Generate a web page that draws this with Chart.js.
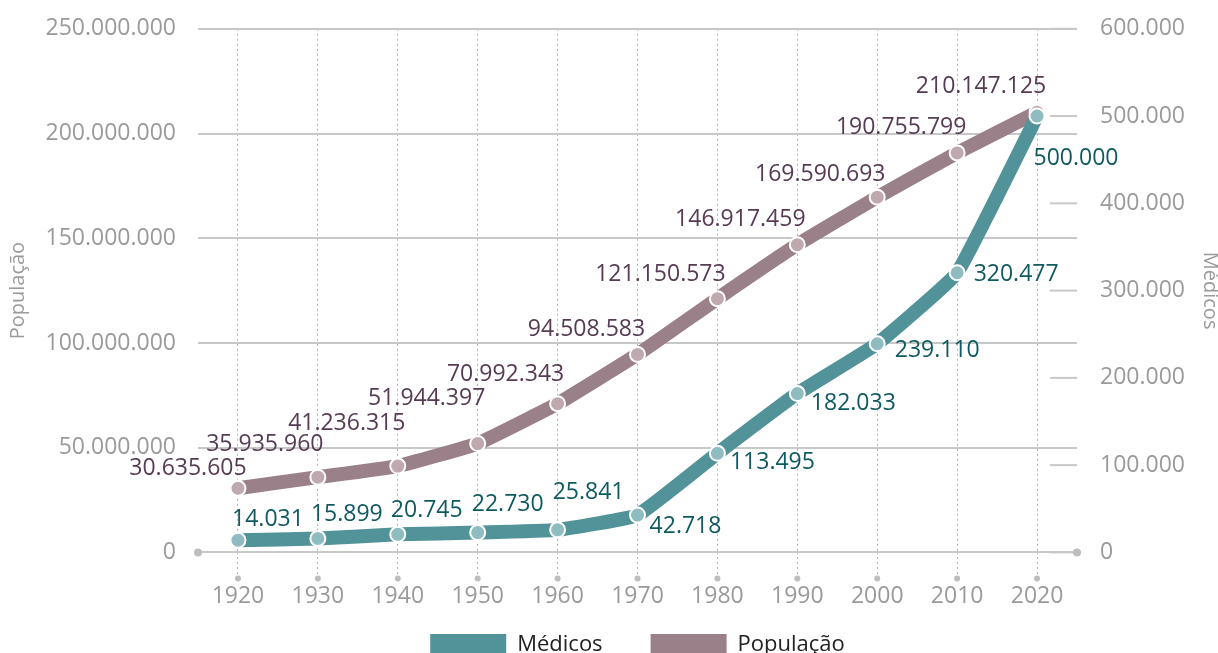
<!DOCTYPE html>
<html>
<head>
<meta charset="utf-8">
<script src="https://cdn.jsdelivr.net/npm/chart.js@4"></script>
<style>
	html, body { margin: 0; padding: 0; background: #fff; overflow: hidden; }
	#box { width: 1218px; height: 674px; position: relative; margin-top: -8px; }
</style>
</head>
<body>
<div id="box"><canvas id="graphic"></canvas></div>
<script>
const anos = ['1920', '1930', '1940', '1950', '1960', '1970', '1980', '1990', '2000', '2010', '2020'];
const medicos = [14031, 15899, 20745, 22730, 25841, 42718, 113495, 182033, 239110, 320477, 500000];
const populacao = [30635605, 35935960, 41236315, 51944397, 70992343, 94508583, 121150573, 146917459, 169590693, 190755799, 210147125];

// where each value label sits, relative to its point
const medLabelPos = [[30, -21], [29, -24], [29, -24], [30, -28], [31, -37], [48, 11], [55, 9], [56, 10], [60, 7], [59, 2], [39, 42]];
const popLabelPos = [[-50, -20], [-53, -33], [-51, -43], [-51, -45], [-52, -29], [-51, -25], [-57, -24], [-57, -25], [-57, -23], [-56, -25], [-56, -26]];

const FONT = "'Open Sans', sans-serif";
const GREY = '#9a9a9a';

function fmt(v) {
	return String(v).replace(/\B(?=(\d{3})+(?!\d))/g, '.');
}

const extras = {
	id: 'extras',
	beforeDatasetsDraw(chart) {
		const ctx = chart.ctx;
		const area = chart.chartArea;
		const x = chart.scales.x;
		const y1 = chart.scales.y1;
		ctx.save();
		// short marks for the right axis
		ctx.strokeStyle = '#c8c8c8';
		ctx.lineWidth = 2;
		y1.ticks.forEach(t => {
			let py = y1.getPixelForValue(t.value);
			ctx.beginPath();
			ctx.moveTo(area.right - 27, py);
			ctx.lineTo(area.right, py);
			ctx.stroke();
		});
		// dots
		ctx.fillStyle = '#bdbdbd';
		[area.left, area.right].forEach(px => {
			ctx.beginPath();
			ctx.arc(px, area.bottom, 4, 0, Math.PI * 2);
			ctx.fill();
		});
		anos.forEach((a, i) => {
			ctx.beginPath();
			ctx.arc(x.getPixelForValue(i), area.bottom + 26, 3, 0, Math.PI * 2);
			ctx.fill();
		});
		ctx.restore();
	},
	afterDatasetsDraw(chart) {
		const ctx = chart.ctx;
		ctx.save();
		ctx.font = '23px ' + FONT;
		ctx.textAlign = 'center';
		ctx.textBaseline = 'middle';
		const sets = [[0, medLabelPos, '#0e5a60'], [1, popLabelPos, '#573b54']];
		sets.forEach(([di, pos, color]) => {
			const meta = chart.getDatasetMeta(di);
			const vals = chart.data.datasets[di].data;
			ctx.fillStyle = color;
			meta.data.forEach((pt, i) => {
				ctx.fillText(fmt(vals[i]), pt.x + pos[i][0], pt.y + pos[i][1]);
			});
		});
		ctx.restore();
	}
};

new Chart(graphic, {
	type: 'line',
	data: {
		labels: anos,
		datasets: [
			{
				label: 'Médicos',
				data: medicos,
				yAxisID: 'y1',
				borderColor: '#52939a',
				backgroundColor: '#52939a',
				borderWidth: 14,
				tension: 0.1,
				pointRadius: 7.5,
				pointHoverRadius: 7.5,
				pointBackgroundColor: '#8fbcc0',
				pointBorderColor: '#ffffff',
				pointBorderWidth: 2
			},
			{
				label: 'População',
				data: populacao,
				yAxisID: 'y',
				borderColor: '#9a8088',
				backgroundColor: '#9a8088',
				borderWidth: 14,
				tension: 0.1,
				pointRadius: 7.5,
				pointHoverRadius: 7.5,
				pointBackgroundColor: '#c0a9ae',
				pointBorderColor: '#ffffff',
				pointBorderWidth: 2
			}
		]
	},
	options: {
		responsive: true,
		maintainAspectRatio: false,
		animation: false,
		layout: { padding: { top: 0, left: 2, right: -4, bottom: 0 } },
		plugins: {
			tooltip: { enabled: false },
			legend: {
				position: 'bottom',
				fullSize: false,
				labels: {
					boxWidth: 76,
					boxHeight: 22,
					padding: 48,
					color: '#222',
					font: { family: FONT, size: 22 },
					generateLabels(chart) {
						return Chart.defaults.plugins.legend.labels.generateLabels(chart).map(l => {
							l.lineWidth = 0;
							return l;
						});
					}
				}
			}
		},
		scales: {
			x: {
				offset: true,
				afterFit(scale) {
					// let the legend sit closer, without clipping the year labels
					scale.height -= 28;
					scale._computeLabelArea = () => undefined;
				},
				grid: {
					offset: false,
					color: '#b0b0b0',
					lineWidth: 1,
					drawTicks: true,
					tickLength: 26,
					tickColor: '#b0b0b0',
					tickBorderDash: [2, 3]
				},
				border: { display: false, dash: [2, 3] },
				ticks: { color: GREY, padding: 4, font: { family: FONT, size: 23 } }
			},
			y: {
				position: 'left',
				min: 0,
				max: 250000000,
				afterFit(scale) { scale.width = 196; },
				grid: { color: '#c8c8c8', lineWidth: 2, drawTicks: false },
				border: { display: false },
				ticks: {
					stepSize: 50000000,
					padding: 22,
					color: GREY,
					font: { family: FONT, size: 23 },
					callback: v => fmt(v)
				},
				title: {
					display: true,
					text: 'População',
					color: GREY,
					padding: { top: 4, bottom: 4 },
					font: { family: FONT, size: 20 }
				}
			},
			y1: {
				position: 'right',
				min: 0,
				max: 600000,
				afterFit(scale) { scale.width = 145; },
				grid: { drawOnChartArea: false, drawTicks: false },
				border: { display: false },
				ticks: {
					stepSize: 100000,
					padding: 23,
					color: GREY,
					font: { family: FONT, size: 23 },
					callback: v => fmt(v)
				},
				title: {
					display: true,
					text: 'Médicos',
					color: GREY,
					padding: { top: 0, bottom: 2 },
					font: { family: FONT, size: 20 }
				}
			}
		}
	},
	plugins: [extras]
});
</script>
</body>
</html>
